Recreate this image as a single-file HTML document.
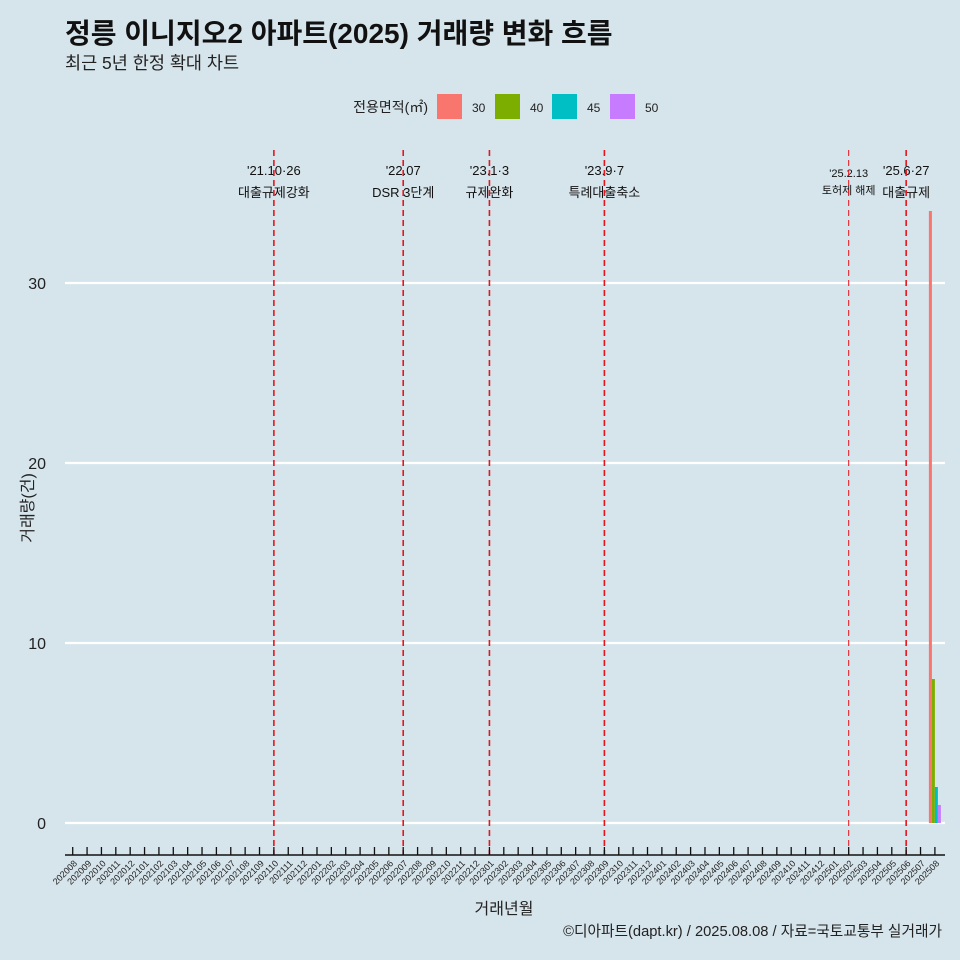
<!DOCTYPE html>
<html><head><meta charset="utf-8"><style>
body{margin:0;background:#d6e4eb;}
svg{display:block;font-family:"Liberation Sans","Noto Sans CJK KR",sans-serif;}
</style></head><body>
<svg id="c" width="960" height="960" viewBox="0 0 960 960">
<rect width="960" height="960" fill="#d6e4eb"/>
<text x="65" y="43" font-size="28" font-weight="bold" fill="#111">정릉 이니지오2 아파트(2025) 거래량 변화 흐름</text>
<text x="65" y="69" font-size="17.5" fill="#222">최근 5년 한정 확대 차트</text>
<g id="legend">
<text x="428" y="112" font-size="14" text-anchor="end" fill="#222">전용면적(㎡)</text>
</g>
<g id="grid"></g><g id="bars"></g><g id="vlines"></g><g id="xaxis"></g><g id="yaxis"></g>
<text x="504" y="914" font-size="16" text-anchor="middle" fill="#222">거래년월</text>
<text transform="translate(33,508) rotate(-90)" font-size="16" text-anchor="middle" fill="#222">거래량(건)</text>
<text x="942" y="936" font-size="14.7" text-anchor="end" fill="#222">©디아파트(dapt.kr) / 2025.08.08 / 자료=국토교통부 실거래가</text>
</svg>
<script>
const months=[];for(let y=2020;y<=2025;y++)for(let m=1;m<=12;m++){const k=y*100+m;if(k>=202008&&k<=202508)months.push(String(k));}
const seriesNames=["30","40","45","50"];
const seriesColors=["#f8766d","#7cae00","#00bfc4","#c77cff"];
const barMonth="202508";
const barValues=[34,8,2,1];
const yTicks=[0,10,20,30];
const eventMonths=["202110","202207","202301","202309","202502","202506"];
const eventDates=["'21.10·26","'22.07","'23.1·3","'23.9·7","'25.2.13","'25.6·27"];
const eventLabels=["대출규제강화","DSR 3단계","규제완화","특례대출축소","토허제 해제","대출규제"];
const NS="http://www.w3.org/2000/svg";
function mk(p,t,a){const e=document.createElementNS(NS,t);for(const k in a)e.setAttribute(k,a[k]);document.getElementById(p).appendChild(e);return e;}
const x=i=>72.7+i*14.37, y=v=>823-v*18;
yTicks.forEach(v=>{
 const l=mk('grid','line',{x1:65,x2:945,y1:y(v),y2:y(v),stroke:'#fff','stroke-width':2.2});
 
 
 const t=mk('yaxis','text',{x:46,y:y(v)+6,'font-size':16,'text-anchor':'end',fill:'#222'});t.textContent=v;
 
 
});
const bi=months.indexOf(barMonth);
barValues.forEach((v,j)=>{
 const w=3;const r=mk('bars','rect',{x:x(bi)-6+j*w,y:y(v),width:w,height:y(0)-y(v),fill:seriesColors[j]});
 
 
});
eventMonths.forEach((m,k)=>{
 const cx=x(months.indexOf(m));const small=k==4;
 const fs=small?11:13;
 const t1=mk('vlines','text',{x:cx,y:small?177:175,'font-size':fs,'text-anchor':'middle',fill:'#111'});t1.textContent=eventDates[k];
 
 
 const t2=mk('vlines','text',{x:cx,y:small?194:197,'font-size':fs,'text-anchor':'middle',fill:'#111'});t2.textContent=eventLabels[k];
 
 
 const l=mk('vlines','line',{x1:cx,x2:cx,y1:150,y2:855,stroke:'#e8141c','stroke-width':small?1:1.6,'stroke-dasharray':'6,4'});
 
 
});
const ax=mk('xaxis','line',{x1:65,x2:945,y1:855,y2:855,stroke:'#111','stroke-width':1.5});


months.forEach((m,i)=>{
 const tk=mk('xaxis','line',{x1:x(i),x2:x(i),y1:847,y2:855,stroke:'#111','stroke-width':1.3});
 
 
 const t=mk('xaxis','text',{transform:`translate(${x(i)+5},864) rotate(-45)`,'font-size':9,'text-anchor':'end',fill:'#222'});t.textContent=m;
 
 
});
const lx=[437,495,552,610];
seriesNames.forEach((s,j)=>{
 const r=mk('legend','rect',{x:lx[j],y:94,width:25,height:25,fill:seriesColors[j]});
 
 
 const t=mk('legend','text',{x:lx[j]+35,y:112,'font-size':12,fill:'#222'});t.textContent=s;
 
 
});
</script>
</body></html>
